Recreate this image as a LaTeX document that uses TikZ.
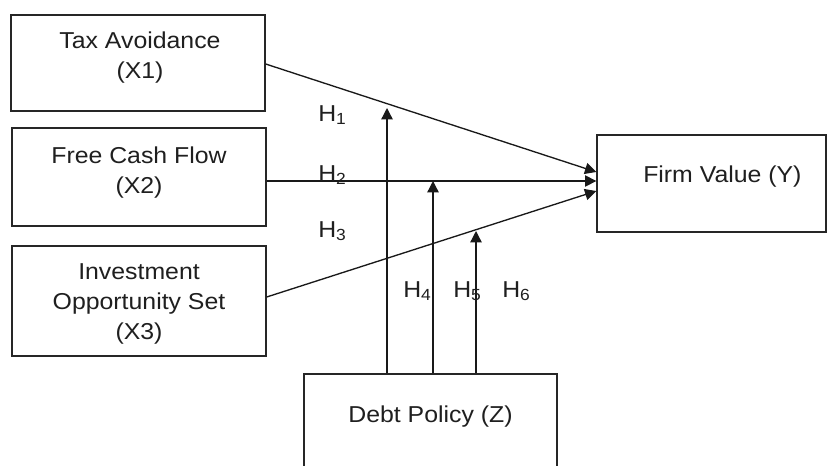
\documentclass[tikz,border=0pt]{standalone}
\usepackage{fontspec}
\setmainfont[FakeStretch=1.08]{Liberation Sans}
\usetikzlibrary{arrows.meta,calc}
\begin{document}
\begin{tikzpicture}[x=0.75pt,y=-0.75pt,
  box/.style={draw=black!85, line width=1pt, rectangle, inner sep=0pt},
  lbl/.style={inner sep=0pt, align=center, text=black!88,
    font=\fontsize{17.25}{22.5}\selectfont},
  hyp/.style={inner sep=0pt, anchor=base west, text=black!88,
    font=\fontsize{17.25}{22.5}\selectfont},
  link/.style={draw=black!90, line width=1pt,
    -{Triangle[length=8.5pt,width=8.5pt]}}
]
\clip (0,0) rectangle (837,465);
\fill[white] (0,0) rectangle (837,465);

% independent variables
\node[box, minimum width=190.5pt, minimum height=72pt]   (x1) at (138,63)  {};
\node[box, minimum width=190.5pt, minimum height=73.5pt] (x2) at (139,177) {};
\node[box, minimum width=190.5pt, minimum height=82.5pt] (x3) at (139,301) {};
\node[lbl, anchor=north] (x1t) at (140,32)  {Tax Avoidance\\(X1)};
\node[lbl, anchor=north] (x2t) at (139,147) {Free Cash Flow\\(X2)};
\node[lbl, anchor=north] (x3t) at (139,263) {Investment\\Opportunity Set\\(X3)};

% dependent variable
\node[box, minimum width=171.75pt, minimum height=72.75pt] (firm) at (711.5,183.5) {};
\node[lbl, anchor=base west] (firmt) at (643,182) {Firm Value (Y)};

% moderating variable
\node[box, minimum width=189.75pt, minimum height=79.5pt] (debt) at (430.5,427) {};
\node[lbl, anchor=base] (debtt) at (430.5,422) {Debt Policy (Z)};

% direct effects
\coordinate (fa) at ($(firm.west)+(0,-11.5)$);
\coordinate (fb) at ($(firm.west)+(0,-2.5)$);
\coordinate (fc) at ($(firm.west)+(0,7.5)$);
\draw[link] ($(x1.east)+(0,1)$) -- (fa);
\draw[link] ($(x2.east)+(0,4)$) -- (fb);
\draw[link] ($(x3.east)+(0,-4)$) -- (fc);

% moderating effects
\coordinate (m1) at (387,108);
\coordinate (m2) at (433,181);
\coordinate (m3) at (476,231);
\draw[link] (m1 |- debt.north) -- (m1);
\draw[link] (m2 |- debt.north) -- (m2);
\draw[link] (m3 |- debt.north) -- (m3);

% hypothesis labels
\node[hyp] (h1) at (318,121) {H\textsubscript{1}};
\node[hyp] (h2) at (318,181) {H\textsubscript{2}};
\node[hyp] (h3) at (318,237) {H\textsubscript{3}};
\node[hyp] (h4) at (403,297) {H\textsubscript{4}};
\node[hyp] (h5) at (453,297) {H\textsubscript{5}};
\node[hyp] (h6) at (502,297) {H\textsubscript{6}};
\end{tikzpicture}
\end{document}
